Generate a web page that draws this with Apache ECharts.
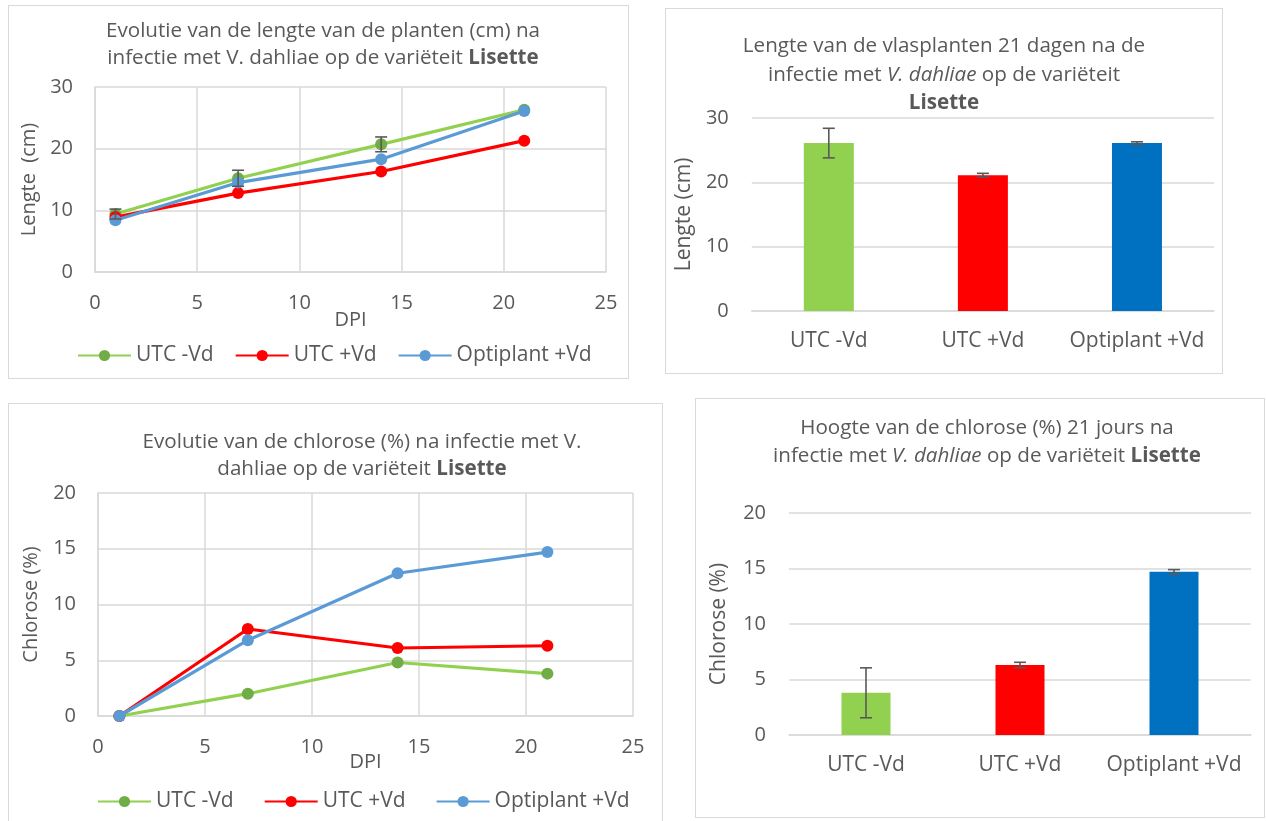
<!DOCTYPE html>
<html><head><meta charset="utf-8">
<script src="https://cdn.jsdelivr.net/npm/echarts@6/dist/echarts.min.js"></script>
<style>
html,body{margin:0;padding:0;width:1266px;height:821px;overflow:hidden;background:#fff;}
.box{position:absolute;border:1px solid #d9d9d9;box-sizing:border-box;background:#fff;}
</style></head><body>
<div id="c1" class="box" style="left:8px;top:5px;width:621px;height:374px"></div>
<div id="c2" class="box" style="left:665px;top:8px;width:558px;height:366px"></div>
<div id="c3" class="box" style="left:8px;top:403px;width:655px;height:430px"></div>
<div id="c4" class="box" style="left:695px;top:398px;width:570px;height:420px"></div>
<script>
// ---------- data ----------
const dpi = [1, 7, 14, 21];
const seriesNames = ['UTC -Vd', 'UTC +Vd', 'Optiplant +Vd'];
const lenUTCmin  = [9.4, 15.2, 20.7, 26.3];
const lenUTCplus = [8.9, 12.8, 16.3, 21.3];
const lenOpti    = [8.4, 14.5, 18.3, 26.1];
const lenUTCminErr = [0.8, 1.3, 1.2, 0];
const chlUTCmin  = [0, 2.0, 4.8, 3.8];
const chlUTCplus = [0, 7.8, 6.1, 6.3];
const chlOpti    = [0, 6.8, 12.8, 14.7];
const groups = ['UTC -Vd', 'UTC +Vd', 'Optiplant +Vd'];
const len21    = [26.1, 21.1, 26.1];
const len21Err = [2.3, 0.3, 0.2];
const chl21    = [3.8, 6.3, 14.7];
const chl21Err = [2.25, 0.25, 0.2];
const titles = [
  'Evolutie van de lengte van de planten (cm) na\ninfectie met V. dahliae op de variëteit {b|Lisette}',
  'Lengte van de vlasplanten 21 dagen na de\ninfectie met {i|V. dahliae} op de variëteit\n{b|Lisette}',
  'Evolutie van de chlorose (%) na infectie met V.\ndahliae op de variëteit {b|Lisette}',
  'Hoogte van de chlorose (%) 21 jours na\ninfectie met {i|V. dahliae} op de variëteit {b|Lisette}'
];

// ---------- styles ----------
const FONT = '"Open Sans", "Noto Sans", sans-serif';
const TXT = '#595959';
const GRID = '#d9d9d9';
const FS = 20;
const lineColors = ['#92d050', '#ff0000', '#5b9bd5'];
const markColors = ['#70ad47', '#ff0000', '#5b9bd5'];
const barColors = ['#92d050', '#ff0000', '#0070c0'];

function titleOpt(text, left, top, lh) {
  const base = {fontFamily: FONT, fontSize: 20.6, color: TXT, lineHeight: lh};
  return {
    text: text, left: left, top: top, textAlign: 'center', padding: 0,
    textStyle: Object.assign({fontWeight: 'normal', rich: {
      b: Object.assign({fontWeight: 'bold'}, base),
      i: Object.assign({fontStyle: 'italic'}, base)
    }}, base)
  };
}

function errSeries(xs, ys, es) {
  const data = [];
  xs.forEach((x, i) => { if (es[i] > 0) data.push([x, ys[i] - es[i], ys[i] + es[i]]); });
  return {
    type: 'custom', silent: true, z: 10, data: data,
    encode: {x: 0, y: [1, 2]},
    renderItem: function (params, api) {
      const lo = api.coord([api.value(0), api.value(1)]);
      const hi = api.coord([api.value(0), api.value(2)]);
      const w = 6;
      const st = {stroke: '#595959', lineWidth: 1.6};
      return {type: 'group', children: [
        {type: 'line', shape: {x1: lo[0], y1: lo[1], x2: hi[0], y2: hi[1]}, style: st},
        {type: 'line', shape: {x1: lo[0] - w, y1: lo[1], x2: lo[0] + w, y2: lo[1]}, style: st},
        {type: 'line', shape: {x1: hi[0] - w, y1: hi[1], x2: hi[0] + w, y2: hi[1]}, style: st}
      ]};
    }
  };
}

function lineChart(el, title, tl, tt, grid, yMax, yInt, yName, yNameGap, xNameGap, vals, errs, legend) {
  const series = vals.map((v, k) => ({
    type: 'line', name: seriesNames[k], data: dpi.map((x, i) => [x, v[i]]),
    symbol: 'circle', symbolSize: 12,
    lineStyle: {color: lineColors[k], width: 3.2},
    itemStyle: {color: markColors[k]},
    z: 3 + k
  }));
  if (errs) series.push(errSeries(dpi, vals[0], errs));
  const ch = echarts.init(document.getElementById(el));
  ch.setOption({
    animation: false,
    title: titleOpt(title, tl, tt, 27.5),
    grid: grid,
    legend: Object.assign({data: seriesNames, orient: 'horizontal', itemWidth: 53, itemHeight: 14, padding: 0,
      textStyle: {fontFamily: FONT, fontSize: 21, color: TXT}}, legend),
    xAxis: {type: 'value', min: 0, max: 25, interval: 5,
      name: 'DPI', nameLocation: 'middle', nameGap: xNameGap, nameMoveOverlap: false,
      nameTextStyle: {fontFamily: FONT, fontSize: FS, color: TXT},
      axisLine: {show: true, lineStyle: {color: GRID, width: 1.5}}, axisTick: {show: false},
      axisLabel: {margin: 21, fontFamily: FONT, fontSize: FS, color: TXT},
      splitLine: {show: true, lineStyle: {color: GRID, width: 1.5}}},
    yAxis: {type: 'value', min: 0, max: yMax, interval: yInt,
      name: yName, nameLocation: 'middle', nameGap: yNameGap, nameRotate: 90,
      nameTextStyle: {fontFamily: FONT, fontSize: FS, color: TXT},
      axisLine: {show: true, lineStyle: {color: GRID, width: 1.5}}, axisTick: {show: false},
      axisLabel: {margin: 22, fontFamily: FONT, fontSize: FS, color: TXT},
      splitLine: {show: true, lineStyle: {color: GRID, width: 1.5}}},
    series: series
  });
}

function barChart(el, title, tl, tt, lh, grid, yMax, yInt, yName, yNameGap, vals, errs, barW) {
  const ch = echarts.init(document.getElementById(el));
  ch.setOption({
    animation: false,
    title: titleOpt(title, tl, tt, lh),
    grid: grid,
    xAxis: {type: 'category', data: groups,
      axisLine: {show: true, lineStyle: {color: GRID, width: 1.5}}, axisTick: {show: false},
      axisLabel: {interval: 0, margin: 20, fontFamily: FONT, fontSize: 21, color: TXT}},
    yAxis: {type: 'value', min: 0, max: yMax, interval: yInt,
      name: yName, nameLocation: 'middle', nameGap: yNameGap, nameRotate: 90,
      nameTextStyle: {fontFamily: FONT, fontSize: 21, color: TXT},
      axisLine: {show: false}, axisTick: {show: false},
      axisLabel: {margin: 23, fontFamily: FONT, fontSize: FS, color: TXT},
      splitLine: {show: true, lineStyle: {color: GRID, width: 1.5}}},
    series: [
      {type: 'bar', barWidth: barW, data: vals.map((v, i) => ({value: v, itemStyle: {color: barColors[i]}}))},
      errSeries(groups.map((g, i) => i), vals, errs)
    ]
  });
}

lineChart('c1', titles[0], 314, 11,
  {left: 86, top: 81, width: 511, height: 185},
  30, 10, 'Lengte  (cm)', 55, 38,
  [lenUTCmin, lenUTCplus, lenOpti], lenUTCminErr,
  {left: 68, top: 339, itemGap: 21});

barChart('c2', titles[1], 278, 23, 28.5,
  {left: 83, top: 109, width: 465, height: 193},
  30, 10, 'Lengte (cm)', 53, len21, len21Err, 50);

lineChart('c3', titles[2], 353, 24,
  {left: 89, top: 89, width: 535, height: 223},
  20, 5, 'Chlorose (%)', 57, 36,
  [chlUTCmin, chlUTCplus, chlOpti], null,
  {left: 88, top: 387, itemGap: 30});

barChart('c4', titles[3], 291, 15, 28,
  {left: 93, top: 114, width: 462, height: 222},
  20, 5, 'Chlorose (%)', 59, chl21, chl21Err, 49);
</script>
</body></html>
